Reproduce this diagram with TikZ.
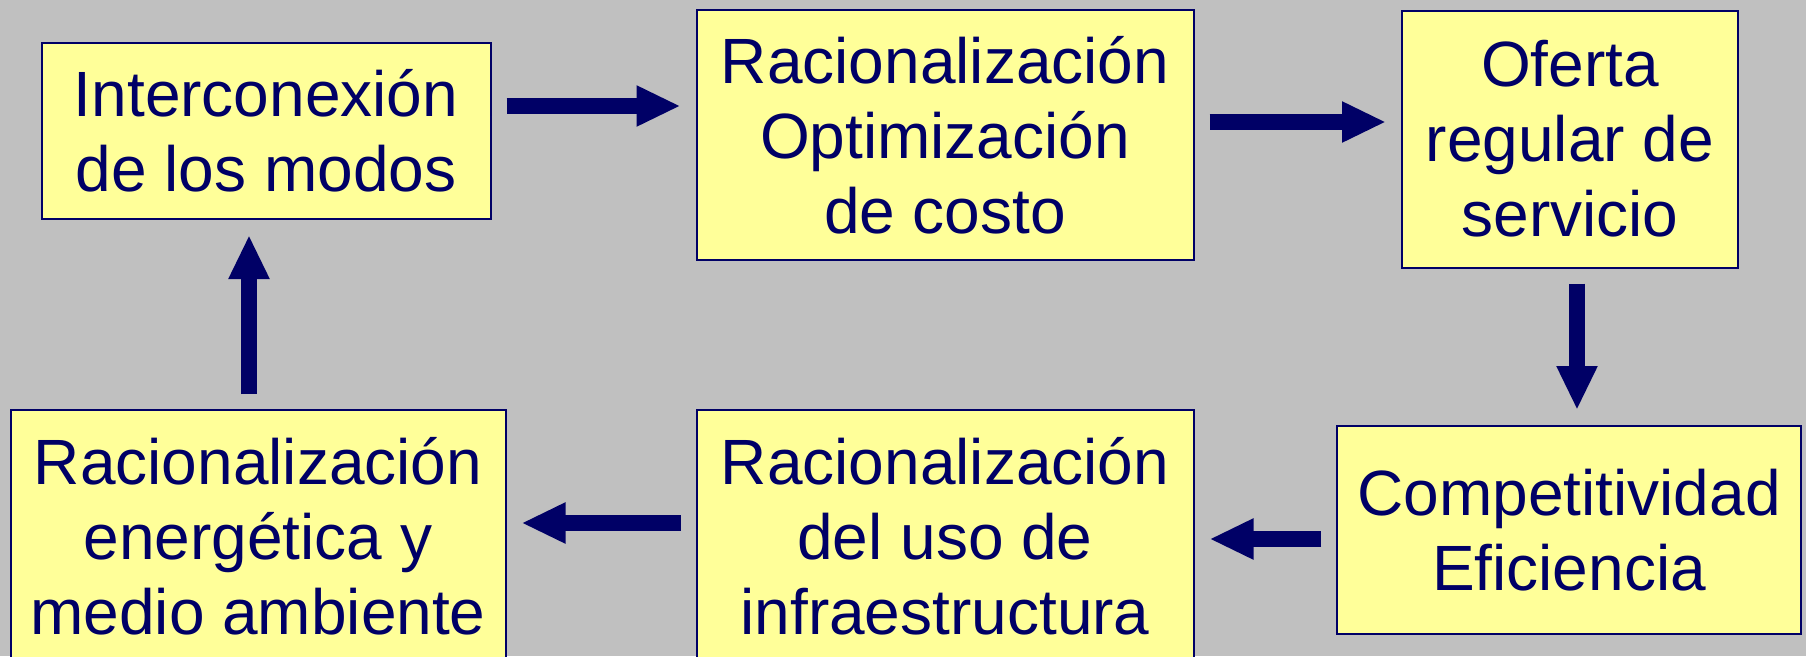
\documentclass[tikz,border=0pt]{standalone}
\usepackage{fontspec}
\setmainfont{Liberation Sans}
\usetikzlibrary{arrows.meta}

\definecolor{slidegray}{HTML}{C0C0C0}
\definecolor{boxyellow}{HTML}{FFFF99}
\definecolor{inknavy}{HTML}{000066}

\begin{document}
\begin{tikzpicture}[x=1pt, y=-1pt,
  box/.style={draw=inknavy, line width=2pt, fill=boxyellow, text=inknavy,
    align=center, inner sep=0pt, font=\fontsize{64}{75}\selectfont},
  bar/.style={draw=inknavy, line width=16pt,
    -{Triangle[width=38pt, length=44pt]}, shorten <=15pt, shorten >=15pt}]
\fill[slidegray] (0,0) rectangle (1806,656);
\useasboundingbox (0,0) rectangle (1806,656);
\clip (0,0) rectangle (1806,656);
%boxes
\node[box, minimum width=449pt, minimum height=176pt] (modos) at (266,131) {Interconexión\\de los modos};
\node[box, minimum width=497pt, minimum height=250pt] (costo) at (945,135) {Racionalización\\Optimización\\de costo};
\node[box, minimum width=336pt, minimum height=257pt] (oferta) at (1570,139) {Oferta\\regular de\\servicio};
\node[box, minimum width=464pt, minimum height=208pt] (compet) at (1569,530) {Competitividad\\Eficiencia};
\node[box, minimum width=497pt, minimum height=252pt] (infra) at (945,536) {Racionalización\\del uso de\\infraestructura};
\node[box, minimum width=495pt, minimum height=252pt] (energia) at (258,536) {Racionalización\\energética y\\medio ambiente};
%arrows
\draw[bar] ([yshift=25pt]modos.east) -- ([yshift=25pt]modos.east -| costo.west);
\draw[bar] ([yshift=13pt]costo.east) -- ([yshift=13pt]costo.east -| oferta.west);
\draw[bar] ([xshift=7pt]oferta.south) -- ([xshift=7pt]oferta.south |- compet.north);
\draw[bar] ([yshift=-9pt]compet.west) -- ([yshift=-9pt]compet.west -| infra.east);
\draw[bar] ([yshift=13pt]infra.west) -- ([yshift=13pt]infra.west -| energia.east);
\draw[bar] ([xshift=-9pt]energia.north) -- ([xshift=-9pt]energia.north |- modos.south);
\end{tikzpicture}
\end{document}
